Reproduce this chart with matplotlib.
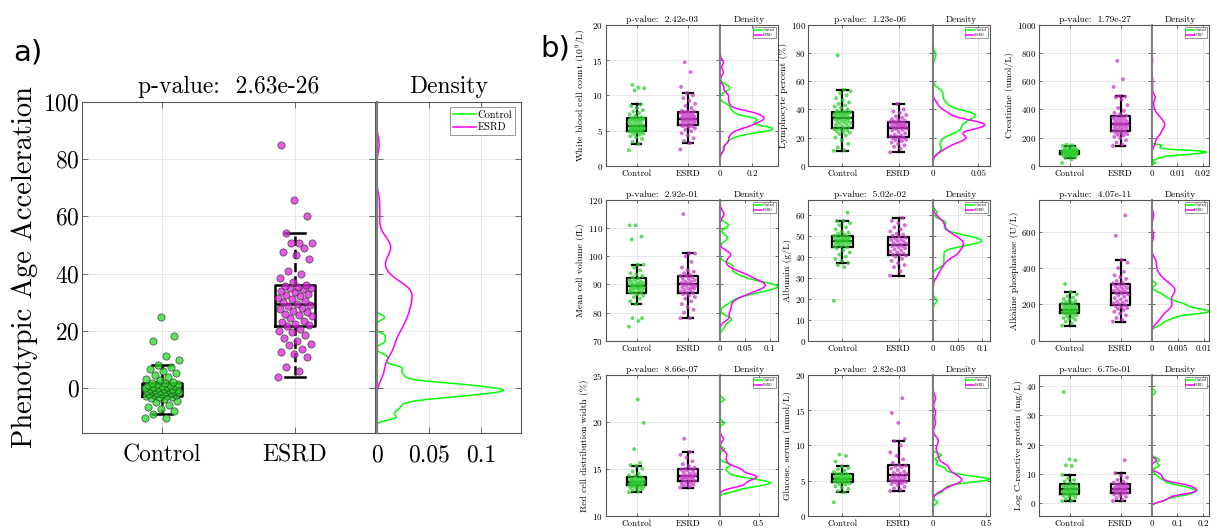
import numpy as np
import matplotlib
matplotlib.use("Agg")
import matplotlib.pyplot as plt

plt.rcParams["font.family"] = "serif"
plt.rcParams["font.serif"] = ["cmr10"]
plt.rcParams["mathtext.fontset"] = "cm"
plt.rcParams["axes.formatter.use_mathtext"] = True
plt.rcParams["axes.unicode_minus"] = False

W, H = 1217, 529
GREEN, MAGENTA = "#00ff00", "#ff00ff"
groups = ["Control", "ESRD"]

# ---- panel a: phenotypic age acceleration ----
pa_ctrl = [-10.5, -10.3, -9.1, -8.0, -7.2, -6.5, -5.8, -5.0, -4.5, -4.0, -3.6, -3.3, -3.0, -2.9, -2.8,
           -2.6, -2.4, -2.2, -2.0, -1.9, -1.7, -1.5, -1.4, -1.2, -1.1, -1.0, -0.9, -0.8, -0.7, -0.6,
           -0.5, -0.3, -0.2, 0.0, 0.1, 0.3, 0.4, 0.6, 0.8, 1.0, 1.2, 1.3, 1.5, 1.6, 1.8,
           2.2, 2.8, 3.3, 4.0, 4.6, 5.2, 6.0, 6.8, 7.2, 7.9, 9.8, 11.3, 16.3, 18.3, 24.7]
pa_esrd = [4.0, 6.0, 7.5, 11.0, 12.0, 12.5, 13.5, 15.0, 15.5, 16.5, 17.5, 18.5, 19.5, 20.0, 20.5,
           21.5, 22.0, 22.5, 23.0, 23.5, 24.5, 25.0, 25.5, 26.0, 26.5, 27.0, 27.5, 28.0, 28.5, 29.0,
           29.5, 30.0, 30.5, 31.0, 31.5, 32.0, 32.5, 33.0, 33.5, 34.0, 34.5, 34.8, 35.0, 35.2, 35.5,
           36.0, 37.0, 38.5, 40.0, 41.0, 45.0, 46.5, 47.5, 49.0, 50.5, 50.5, 50.5, 54.0, 60.0, 65.5, 85.0]
pa_pval = "2.63e-26"

# ---- panel b: nine biomarkers ----
wbc_ctrl = [2.2, 3.1, 3.4, 3.8, 4.0, 4.2, 4.4, 4.5, 4.6, 4.7, 4.8, 4.8, 4.9, 4.9, 5.0,
            5.0, 5.1, 5.1, 5.2, 5.2, 5.3, 5.3, 5.3, 5.4, 5.4, 5.5, 5.5, 5.6, 5.6, 5.7,
            5.8, 5.9, 6.0, 6.1, 6.2, 6.3, 6.4, 6.5, 6.5, 6.6, 6.6, 6.7, 6.7, 6.8, 6.8,
            6.9, 7.1, 7.3, 7.5, 7.7, 7.9, 8.2, 8.5, 8.7, 10.7, 11.0, 11.1, 11.5]
wbc_esrd = [2.3, 3.2, 3.5, 3.9, 4.3, 4.6, 4.9, 5.1, 5.3, 5.5, 5.6, 5.6, 5.7, 5.8, 5.9,
            6.0, 6.1, 6.2, 6.3, 6.4, 6.5, 6.5, 6.6, 6.6, 6.7, 6.7, 6.8, 6.9, 7.0, 7.0,
            7.1, 7.2, 7.3, 7.4, 7.5, 7.5, 7.6, 7.7, 7.7, 7.8, 8.2, 8.5, 8.8, 9.2, 9.6,
            10.0, 10.3, 11.2, 13.3, 14.7]
lym_ctrl = [10.5, 11.0, 13.0, 15.5, 18.0, 20.0, 21.5, 22.5, 23.5, 24.0, 24.5, 25.0, 25.5, 26.0, 26.5,
            27.0, 27.5, 28.0, 29.0, 29.5, 30.0, 30.5, 31.0, 31.5, 32.0, 32.5, 33.0, 33.0, 33.5, 34.0,
            34.5, 35.0, 35.0, 35.5, 36.0, 36.0, 36.5, 37.0, 37.0, 37.5, 37.5, 38.0, 38.0, 38.5, 39.0,
            40.0, 41.0, 42.0, 43.0, 44.0, 45.0, 46.5, 48.0, 50.0, 51.5, 53.0, 54.0, 78.5]
lym_esrd = [9.5, 12.0, 13.5, 14.5, 15.5, 16.5, 17.5, 18.0, 18.5, 19.0, 19.5, 20.0, 20.5, 21.0, 21.5,
            22.0, 23.0, 24.0, 25.0, 25.5, 26.0, 26.5, 27.0, 27.0, 27.5, 28.0, 28.0, 28.5, 29.0, 29.0,
            29.5, 30.0, 30.0, 30.5, 31.0, 31.0, 31.5, 32.0, 32.5, 33.0, 34.0, 35.0, 36.0, 37.5, 38.5,
            40.0, 44.0]
cre_ctrl = [20, 45, 55, 60, 65, 70, 72, 75, 77, 78, 80, 80, 82, 83, 85,
            86, 87, 88, 89, 90, 91, 92, 93, 94, 95, 95, 96, 97, 98, 99,
            100, 101, 102, 103, 104, 105, 106, 107, 108, 109, 110, 112, 115, 118, 122,
            128, 135, 140, 145, 150]
cre_esrd = [140, 150, 165, 180, 195, 205, 215, 220, 225, 230, 235, 240, 245, 250, 255,
            260, 265, 270, 275, 280, 285, 288, 290, 293, 295, 298, 300, 305, 310, 315,
            320, 325, 330, 335, 340, 345, 350, 355, 365, 375, 390, 410, 430, 470, 485,
            490, 495, 560, 615, 745]
mcv_ctrl = [75, 77, 78, 78, 83, 84, 85, 85.5, 86, 86.5, 87, 87, 87, 87.5, 88,
            88, 88, 88.5, 88.5, 89, 89, 89, 89, 89.5, 89.5, 89.5, 90, 90, 90, 90.5,
            90.5, 91, 91, 91.5, 91.5, 92, 92.5, 93, 93.5, 94, 95, 96, 97, 97, 106, 107, 111, 111]
mcv_esrd = [78, 78, 80, 81, 82, 83, 84, 85, 85.5, 86, 86.5, 87, 87, 87.5, 88,
            88, 88.5, 88.5, 89, 89, 89.5, 89.5, 90, 90, 90, 90.5, 90.5, 91, 91, 91.5,
            92, 92, 92.5, 93, 93, 93.5, 94, 94.5, 95, 96, 98, 100, 101, 101, 115]
alb_ctrl = [19, 35, 36, 37, 38, 39, 40, 41, 42, 43, 44, 44.5, 45, 45, 45.5,
            46, 46, 46.5, 46.5, 47, 47, 47, 47.5, 47.5, 48, 48, 48, 48.5, 48.5, 49,
            49, 49.5, 49.5, 50, 50, 50.5, 51, 51.5, 52, 53, 54, 55, 56, 57, 57, 61]
alb_esrd = [31, 33, 35, 36, 37, 38, 39, 40, 40.5, 41, 41, 41.5, 42, 42.5, 43,
            43.5, 44, 44.5, 45, 45, 45.5, 46, 46, 46.5, 47, 47.5, 48, 48, 48.5, 49,
            49.5, 50, 50.5, 51, 52, 53, 54, 55, 56, 57, 58.5]
alp_ctrl = [83, 95, 105, 115, 120, 125, 130, 135, 140, 145, 150, 150, 152, 155, 155,
            158, 160, 160, 162, 165, 165, 168, 170, 172, 175, 178, 180, 183, 186, 190,
            193, 196, 200, 203, 206, 210, 213, 218, 225, 230, 238, 245, 255, 267, 312]
alp_esrd = [105, 115, 125, 140, 150, 160, 170, 175, 180, 185, 190, 195, 200, 205, 210,
            215, 220, 228, 235, 242, 250, 255, 260, 263, 268, 272, 276, 280, 285, 290,
            295, 300, 305, 310, 315, 320, 330, 340, 350, 360, 380, 400, 430, 445, 578, 690]
rdw_ctrl = [12.5, 12.6, 12.7, 12.8, 12.9, 13.0, 13.0, 13.1, 13.1, 13.2, 13.2, 13.3, 13.3, 13.3, 13.4,
            13.4, 13.4, 13.5, 13.5, 13.5, 13.6, 13.6, 13.6, 13.7, 13.7, 13.7, 13.8, 13.8, 13.9, 13.9,
            14.0, 14.0, 14.1, 14.2, 14.3, 14.5, 14.7, 15.0, 15.3, 15.4, 15.6, 17.1, 19.9, 22.4]
rdw_esrd = [13.0, 13.1, 13.2, 13.3, 13.3, 13.4, 13.5, 13.6, 13.7, 13.7, 13.8, 13.9, 14.0, 14.0, 14.1,
            14.1, 14.2, 14.2, 14.2, 14.3, 14.3, 14.4, 14.5, 14.6, 14.7, 14.8, 14.9, 15.0, 15.0, 15.1,
            15.3, 15.5, 15.8, 16.2, 16.5, 16.8, 18.2]
glu_ctrl = [1.9, 3.3, 3.5, 3.8, 4.0, 4.2, 4.4, 4.5, 4.6, 4.7, 4.8, 4.8, 4.9, 4.9, 5.0,
            5.0, 5.1, 5.1, 5.2, 5.2, 5.2, 5.3, 5.3, 5.3, 5.4, 5.4, 5.5, 5.5, 5.6, 5.7,
            5.8, 5.9, 5.9, 6.0, 6.2, 6.4, 6.6, 6.8, 7.0, 7.7, 8.5, 8.7]
glu_esrd = [3.5, 3.7, 3.9, 4.1, 4.3, 4.5, 4.6, 4.7, 4.8, 4.8, 4.9, 5.0, 5.0, 5.1, 5.2,
            5.3, 5.4, 5.5, 5.6, 5.7, 5.8, 5.9, 6.0, 6.1, 6.3, 6.5, 6.7, 6.9, 7.0, 7.1,
            7.2, 7.5, 8.0, 8.5, 9.0, 10.0, 10.6, 10.9, 13.2, 14.6, 16.7]
crp_ctrl = [0.8, 1.0, 1.5, 2.0, 2.3, 2.6, 2.9, 3.0, 3.1, 3.2, 3.4, 3.5, 3.7, 3.9, 4.0,
            4.2, 4.3, 4.5, 4.5, 4.7, 4.8, 5.0, 5.1, 5.3, 5.5, 5.7, 5.9, 6.0, 6.2, 6.5,
            7.0, 7.5, 8.0, 8.5, 9.7, 12.8, 13.0, 14.7, 15.0, 38.0]
crp_esrd = [0.8, 1.2, 1.8, 2.2, 2.6, 3.0, 3.3, 3.5, 3.6, 3.8, 4.0, 4.1, 4.3, 4.5, 4.6,
            4.8, 5.0, 5.1, 5.3, 5.5, 5.7, 5.9, 6.1, 6.3, 6.5, 6.6, 7.0, 7.5, 8.0, 8.8,
            9.5, 10.3, 14.7]

b_ctrl = [wbc_ctrl, lym_ctrl, cre_ctrl, mcv_ctrl, alb_ctrl, alp_ctrl, rdw_ctrl, glu_ctrl, crp_ctrl]
b_esrd = [wbc_esrd, lym_esrd, cre_esrd, mcv_esrd, alb_esrd, alp_esrd, rdw_esrd, glu_esrd, crp_esrd]
b_labels = [r"White blood cell count ($10^9$/L)", "Lymphocyte percent (%)", "Creatinine (umol/L)",
            "Mean cell volume (fL)", "Albumin (g/L)", "Alkaline phosphatase (U/L)",
            "Red cell distribution width (%)", "Glucose, serum (mmol/L)", "Log C-reactive protein (mg/L)"]
b_pvals = ["2.42e-03", "1.23e-06", "1.79e-27", "2.92e-01", "5.02e-02",
           "4.07e-11", "8.66e-07", "2.82e-03", "6.75e-01"]
b_ylims = [(0, 20), (0, 100), (0, 1000), (70, 120), (0, 67), (0, 775), (10, 25), (0, 20), (-4.2, 43.8)]
b_yticks = [[0, 5, 10, 15, 20], [0, 20, 40, 60, 80, 100], [0, 200, 400, 600, 800, 1000],
            [70, 80, 90, 100, 110, 120], [0, 10, 20, 30, 40, 50, 60], [0, 200, 400, 600],
            [10, 15, 20, 25], [0, 5, 10, 15, 20], [0, 10, 20, 30, 40]]
b_dxmax = [0.362, 0.063, 0.0225, 0.112, 0.116, 0.0102, 0.75, 0.52, 0.225]
b_dxticks = [[0, 0.2], [0, 0.05], [0, 0.01, 0.02], [0, 0.05, 0.1], [0, 0.05, 0.1],
             [0, 0.005, 0.01], [0, 0.5], [0, 0.5], [0, 0.1, 0.2]]


def ksdensity(v, npts=120, shrink=0.55):
    # MATLAB-style normal-kernel estimate, with a narrower bandwidth
    v = np.asarray(v, float)
    sig = np.median(np.abs(v - np.median(v))) / 0.6745
    bw = shrink * sig * (4 / (3 * len(v))) ** 0.2
    grid = np.linspace(v.min() - 3 * bw, v.max() + 3 * bw, npts)
    z = (grid[:, None] - v[None, :]) / bw
    dens = np.exp(-0.5 * z ** 2).sum(1) / (len(v) * bw * np.sqrt(2 * np.pi))
    return grid, dens


def px_rect(x0, x1, y_top, y_bot):
    return [x0 / W, 1 - y_bot / H, (x1 - x0) / W, (y_bot - y_top) / H]


def style_axes(ax, fs, tick_len):
    ax.grid(True, color="#e3e3e3", lw=0.6)
    ax.set_axisbelow(True)
    for s in ax.spines.values():
        s.set_color("#555555")
        s.set_linewidth(0.8)
    ax.tick_params(direction="in", top=True, right=True, length=tick_len,
                   width=0.6, color="#555555", labelsize=fs, pad=2)


def draw_pair(rect_main, rect_dens, ctrl, esrd, ylim, yticks, ylabel, pval,
              dxmax, dxticks, big):
    fs_tick = 17 if big else 6.5
    fs_title = 17 if big else 6.8
    ax = fig.add_axes(rect_main)
    ax2 = fig.add_axes(rect_dens)
    for a in (ax, ax2):
        style_axes(a, fs_tick, 4 if big else 2)

    lw = 1.8 if big else 1.6
    ax.boxplot([ctrl, esrd], positions=[1, 2], widths=0.3 if big else 0.38,
               showfliers=False, manage_ticks=False,
               boxprops=dict(color="k", lw=lw), medianprops=dict(color="k", lw=lw),
               whiskerprops=dict(color="k", lw=lw, ls="--" if big else "-"),
               capprops=dict(color="k", lw=lw), zorder=2)
    spread = 0.13 if big else 0.15
    for pos, vals in [(1, ctrl), (2, esrd)]:
        vals = np.asarray(vals, float)
        jit = ((np.arange(len(vals)) * 0.618034) % 1 - 0.5) * 2 * spread
        if big:
            fc = "#22dd22" if pos == 1 else "#dd22dd"
            ax.scatter(pos + jit, vals, s=27, c=fc, alpha=0.75, edgecolors="#333333",
                       linewidths=0.6, zorder=3)
        else:
            fc = "#2fcf2f" if pos == 1 else "#c93cc9"
            ax.scatter(pos + jit, vals, s=8, c=fc, alpha=0.75, edgecolors="none", zorder=3)

    ax.set_xlim(0.4, 2.6)
    ax.set_xticks([1, 2], groups)
    ax.set_ylim(*ylim)
    ax.set_yticks(yticks)
    ax.set_ylabel(ylabel, fontsize=20.5 if big else 7, labelpad=4 if big else 2)
    ax.set_title(f"p-value:  {pval}", fontsize=fs_title, pad=6 if big else 2.5)
    ax.tick_params(axis="x", pad=8 if big else 3)

    peak = 0
    for vals, col, name in [(ctrl, GREEN, "Control"), (esrd, MAGENTA, "ESRD")]:
        g, d = ksdensity(vals)
        peak = max(peak, d.max())
        ax2.plot(d, g, color=col, lw=1.1, label=name)
    ax2.set_ylim(*ylim)
    ax2.set_yticks(yticks)
    ax2.tick_params(labelleft=False)
    ax2.set_xlim(0, max(dxmax, peak))
    ax2.set_xticks(dxticks, [f"{t:g}" for t in dxticks])
    ax2.tick_params(axis="x", pad=8 if big else 3)
    ax2.spines["left"].set_color("#808080")
    ax2.spines["left"].set_linewidth(1.6 if big else 1.4)
    ax2.set_title("Density", fontsize=fs_title, pad=6 if big else 2.5)
    leg = ax2.legend(loc="upper right", fontsize=7.5 if big else 2.6, frameon=True,
                     fancybox=False, borderpad=0.3, handlelength=2.2, handletextpad=0.2,
                     labelspacing=0.3, borderaxespad=0.5)
    leg.get_frame().set_edgecolor("#666666")
    leg.get_frame().set_linewidth(0.6)


fig = plt.figure(figsize=(W / 100, H / 100), dpi=100)
fig.patch.set_facecolor("white")

draw_pair(px_rect(82.3, 375, 101.7, 433), px_rect(376.7, 520.7, 101.7, 433),
          pa_ctrl, pa_esrd, (-15.7, 100), [0, 20, 40, 60, 80, 100],
          "Phenotypic Age Acceleration", pa_pval, 0.1376, [0, 0.05, 0.1], True)

col_main = [(605.7, 719), (808.5, 932.3), (1039.3, 1151)]
col_dens = [(720.3, 777.7), (933.3, 990), (1151.7, 1209.3)]
row_top = [25, 200, 375]
for i in range(9):
    r, c = divmod(i, 3)
    y0 = row_top[r]
    draw_pair(px_rect(*col_main[c], y0, y0 + 140.7), px_rect(*col_dens[c], y0, y0 + 140.7),
              b_ctrl[i], b_esrd[i], b_ylims[i], b_yticks[i], b_labels[i], b_pvals[i],
              b_dxmax[i], b_dxticks[i], False)

fig.text(13 / W, 1 - 52 / H, "a)", family="DejaVu Sans", fontsize=21, va="center")
fig.text(540 / W, 1 - 48 / H, "b)", family="DejaVu Sans", fontsize=21, va="center")

fig.savefig("out.png", dpi=100, facecolor="white")
